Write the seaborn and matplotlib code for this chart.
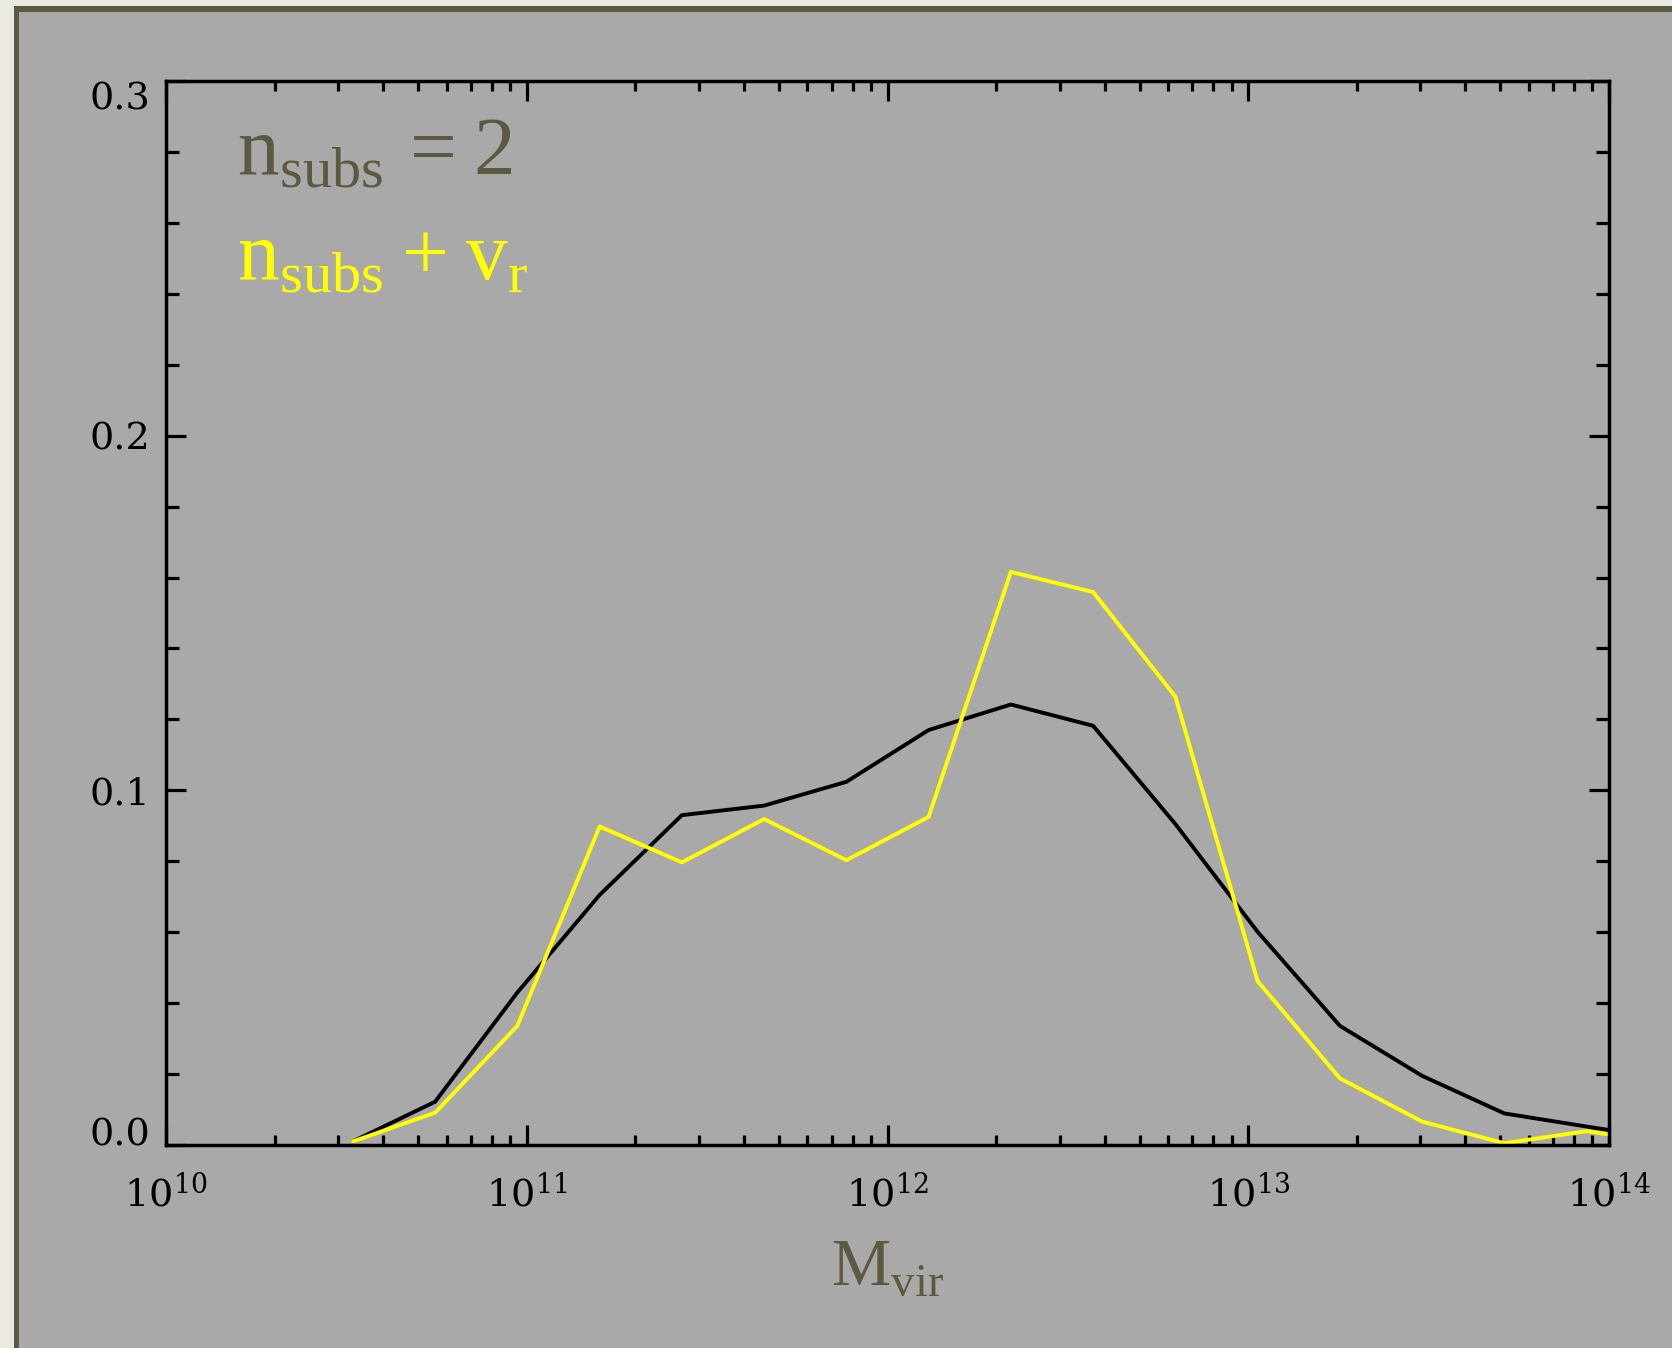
import numpy as np
import pandas as pd
import matplotlib
matplotlib.use("Agg")
import matplotlib.pyplot as plt
from matplotlib.patches import Rectangle
from matplotlib.ticker import FixedLocator, NullFormatter
import seaborn as sns

# ---- data ----
log_mvir = [10.518, 10.746, 10.974, 11.202, 11.430, 11.658, 11.886, 12.114, 12.342,
            12.570, 12.798, 13.026, 13.254, 13.482, 13.710, 13.938, 14.166]
frac_nsubs = [0.001, 0.0122, 0.0430, 0.0705, 0.0930, 0.0957, 0.1024, 0.1170, 0.1242,
              0.1182, 0.0905, 0.0601, 0.0336, 0.0195, 0.0089, 0.0052, 0.0016]
frac_nsubs_vr = [0.001, 0.0091, 0.0336, 0.0898, 0.0797, 0.0919, 0.0803, 0.0925, 0.1616,
                 0.1559, 0.1264, 0.0462, 0.0188, 0.0066, 0.0005, 0.0039, 0.0004]
xtick_vals = [1e10, 1e11, 1e12, 1e13, 1e14]
xtick_labels = [r"$10^{10}$", r"$10^{11}$", r"$10^{12}$", r"$10^{13}$", r"$10^{14}$"]
ytick_vals = [0.0, 0.1, 0.2, 0.3]
ytick_labels = ["0.0", "0.1", "0.2", "0.3"]
label_main = r"$\mathrm{n}_{\mathrm{subs}}\hspace{0.1} = 2$"
label_second = r"$\mathrm{n}_{\mathrm{subs}} + \mathrm{v}_{\mathrm{r}}$"
xlabel = r"$\mathrm{M}_{\mathrm{vir}}$"

OLIVE = "#5c5940"
GRAY = "#a9a9a9"
BEIGE = "#ebeae0"
YELLOW = "#ffff00"

sns.set_style("ticks")
plt.rcParams["mathtext.fontset"] = "custom"
plt.rcParams["mathtext.rm"] = "Liberation Serif"
plt.rcParams["font.family"] = ["DejaVu Serif"]

W, H = 1672, 1348
fig = plt.figure(figsize=(W / 100, H / 100), dpi=100, facecolor=BEIGE)

# frame: olive border and gray panel extending beyond right/bottom
fig.add_artist(Rectangle((14 / W, -0.1), 1.2, 1 - 6 / H + 0.1, transform=fig.transFigure,
                         facecolor=OLIVE, edgecolor="none", zorder=-10))
fig.add_artist(Rectangle((19 / W, -0.1), 1.2, 1 - 12 / H + 0.1, transform=fig.transFigure,
                         facecolor=GRAY, edgecolor="none", zorder=-9))

ax = fig.add_axes([166 / W, 1 - 1145 / H, (1609 - 166) / W, (1145 - 81) / H])
ax.set_facecolor(GRAY)

df = pd.DataFrame({
    "mvir": np.power(10.0, log_mvir),
    "a": frac_nsubs,
    "b": frac_nsubs_vr,
})
sns.lineplot(data=df, x="mvir", y="a", ax=ax, color="black", linewidth=2.8, legend=False)
sns.lineplot(data=df, x="mvir", y="b", ax=ax, color=YELLOW, linewidth=2.8, legend=False)

ax.set_xscale("log")
ax.set_xlim(1e10, 1e14)
ax.set_ylim(0, 0.3)

ax.xaxis.set_major_locator(FixedLocator(xtick_vals))
minors = [m * 10.0 ** d for d in range(10, 14) for m in range(2, 10)]
ax.xaxis.set_minor_locator(FixedLocator(minors))
ax.xaxis.set_minor_formatter(NullFormatter())
ax.set_xticks(xtick_vals)
xl = ax.set_xticklabels(xtick_labels)
for t in xl:
    t.set_math_fontfamily("dejavuserif")

ax.set_yticks(ytick_vals)
yl = ax.set_yticklabels(ytick_labels)
ax.yaxis.set_minor_locator(FixedLocator([0.02, 0.04, 0.06, 0.08, 0.12, 0.14, 0.16, 0.18,
                                         0.22, 0.24, 0.26, 0.28]))
yl[0].set_va("baseline")
yl[-1].set_va("top")

for s in ax.spines.values():
    s.set_linewidth(2.5)
    s.set_color("black")
    s.set_visible(True)

ax.tick_params(axis="both", which="both", direction="in", top=True, right=True,
               colors="black", width=2.3)
ax.tick_params(axis="both", which="major", length=14.5, labelsize=27.5)
ax.tick_params(axis="x", which="major", pad=21)
ax.tick_params(axis="y", which="major", pad=11.5)
ax.tick_params(axis="y", which="minor", length=9.4)
ax.tick_params(axis="x", which="minor", length=7.2)

ax.set_xlabel(xlabel, fontsize=48, color=OLIVE, labelpad=14)
ax.set_ylabel("")

ax.text(0.0492, 0.9117, label_main, transform=ax.transAxes, fontsize=60, color=OLIVE,
        ha="left", va="baseline")
ax.text(0.0492, 0.8130, label_second, transform=ax.transAxes, fontsize=60, color=YELLOW,
        ha="left", va="baseline")

fig.savefig("out.png", dpi=100, facecolor=BEIGE)
